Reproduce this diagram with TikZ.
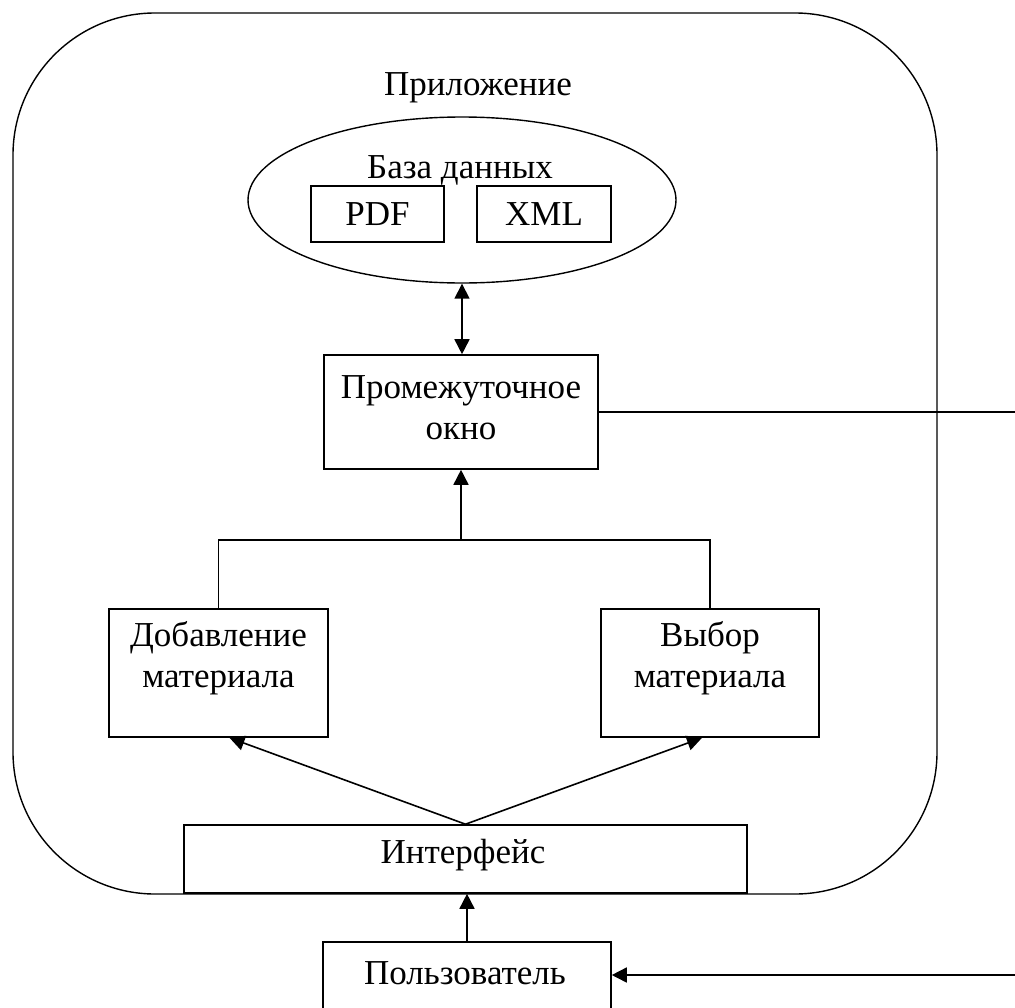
\documentclass[tikz,border=0pt]{standalone}
\usepackage{fontspec}
\setmainfont{Liberation Serif}
\usetikzlibrary{shapes.geometric,arrows.meta,calc}
\begin{document}
\begin{tikzpicture}[x=1pt,y=-1pt,
  every node/.style={font=\fontsize{35}{41}\selectfont},
  boxnode/.style={draw, line width=1.6pt, inner sep=0pt, fill=white},
  lbl/.style={inner sep=0pt, align=center},
  conn/.style={line width=1.6pt},
  arr/.style={conn, -{Triangle[length=15pt,width=15pt]}},
  darr/.style={conn, {Triangle[length=15pt,width=15pt]}-{Triangle[length=15pt,width=15pt]}},
]
\useasboundingbox (0,0) rectangle (1015,1007);
\clip (0,0) rectangle (1015,1007);
\fill[white] (0,0) rectangle (1015,1007);
\draw[line width=1.4pt, rounded corners=142pt] (13,13) rectangle (937,894);

\node[lbl] (app) at (478,88) {Приложение};
\node[draw, ellipse, line width=1.4pt, minimum width=428pt, minimum height=166pt, inner sep=0pt] (db) at (462,200) {};
\node[lbl] (dbT) at (460,170) {База данных};
\node[boxnode, minimum width=133pt, minimum height=56pt] (pdf) at (377.5,214) {PDF};
\node[boxnode, minimum width=134pt, minimum height=56pt] (xml) at (544,214) {XML};

\node[boxnode, minimum width=274pt, minimum height=114pt] (inter) at (461,412) {};
\node[lbl] (interT) at (461,408) {Промежуточное\\окно};

\node[boxnode, minimum width=219pt, minimum height=128pt] (add) at (218.5,673) {};
\node[lbl] (addT) at (218.5,658) {Добавление\\материала};
\node[boxnode, minimum width=218pt, minimum height=128pt] (sel) at (710,673) {};
\node[lbl] (selT) at (710,658) {Выбор\\материала};

\node[boxnode, minimum width=563pt, minimum height=68pt] (ifc) at (465.5,859) {};
\node[lbl] (ifcT) at (463,855) {Интерфейс};
\node[boxnode, minimum width=288pt, minimum height=76pt] (user) at (467,980) {};
\node[lbl] (userT) at (465,973) {Пользователь};

\draw[darr] (db.south) -- (db.south |- inter.north);
\coordinate (jn) at (461,540);
\draw[conn] (add.north) |- (jn) -| (sel.north);
\draw[arr] (jn) -- (inter.south);
\draw[arr] (ifc.north) -- ([xshift=11pt]add.south);
\draw[arr] (ifc.north) -- ([xshift=-8pt]sel.south);
\draw[arr] (user.north) -- (user.north |- ifc.south);
\coordinate (fb) at (1040,412);
\draw[arr] (inter.east) -- (fb) |- ([yshift=5pt]user.east);
\end{tikzpicture}
\end{document}
